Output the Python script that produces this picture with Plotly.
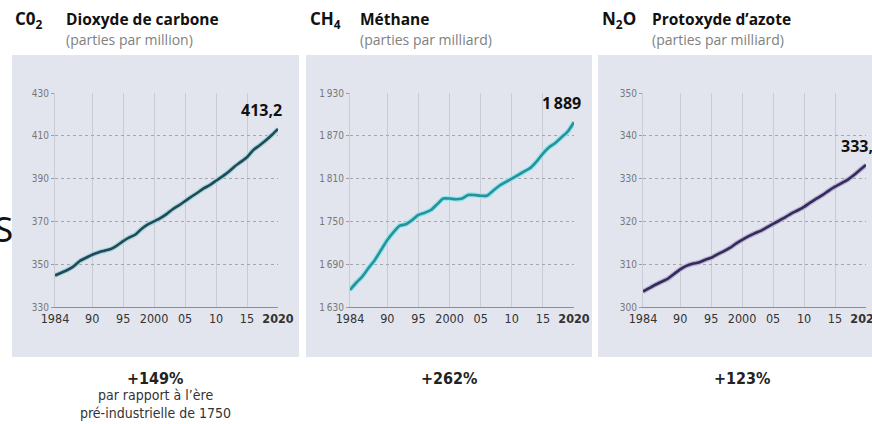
import plotly.graph_objects as go

W, H = 872, 424

years = list(range(1984, 2021))

co2 = [344.7, 346.0, 347.3, 349.0, 351.5, 353.0, 354.4, 355.5, 356.3, 357.1, 358.7, 360.8,
       362.5, 363.9, 366.6, 368.6, 370.0, 371.5, 373.4, 375.7, 377.5, 379.5, 381.5, 383.4,
       385.4, 387.0, 389.0, 391.0, 393.1, 395.7, 397.8, 400.0, 403.3, 405.5, 407.8, 410.4, 413.2]

ch4 = [1654, 1664, 1673, 1685, 1696, 1710, 1724, 1735, 1744, 1746, 1752, 1759, 1762, 1766,
       1774, 1782, 1782, 1781, 1782, 1787, 1787, 1786, 1786, 1793, 1800, 1805, 1810, 1815,
       1820, 1825, 1834, 1845, 1854, 1860, 1868, 1876, 1889]

n2o = [303.6, 304.4, 305.2, 305.9, 306.6, 307.7, 308.8, 309.6, 310.1, 310.4, 311.0, 311.5,
       312.3, 313.0, 313.8, 314.8, 315.7, 316.5, 317.2, 317.8, 318.6, 319.4, 320.2, 321.0,
       321.9, 322.6, 323.4, 324.4, 325.3, 326.2, 327.2, 328.1, 328.9, 329.7, 330.8, 332.0, 333.2]

x_tickvals = [1984, 1990, 1995, 2000, 2005, 2010, 2015, 2020]
x_ticktext = ["1984", "90", "95", "2000", "05", "10", "15", "<b>2020</b>"]

co2_ticks = [330, 350, 370, 390, 410, 430]
co2_ticktext = ["330", "350", "370", "390", "410", "430"]
ch4_ticks = [1630, 1690, 1750, 1810, 1870, 1930]
ch4_ticktext = ["1\u2009630", "1\u2009690", "1\u2009750", "1\u2009810", "1\u2009870", "1\u2009930"]
n2o_ticks = [300, 310, 320, 330, 340, 350]
n2o_ticktext = ["300", "310", "320", "330", "340", "350"]

formulas = ["C0<sub>2</sub>", "CH<sub>4</sub>", "N<sub>2</sub>O"]
names = ["Dioxyde de carbone", "Méthane", "Protoxyde d\u2019azote"]
units = ["(parties par million)", "(parties par milliard)", "(parties par milliard)"]
last_labels = ["413,2", "1\u2009889", "333,2"]
changes = ["+149%", "+262%", "+123%"]
change_note = "par rapport à l\u2019ère<br>pré-industrielle de 1750"

NARROW = "DejaVu Sans Condensed, Open Sans, sans-serif"
BOLD = "Open Sans, Noto Sans, sans-serif"

def px(x):
    return x / W

def py(y):
    return 1 - y / H

panels = [
    dict(px0=12, px1=299, x0=55, x1=278, y=co2, yt=co2_ticks, ytt=co2_ticktext,
         col="#1f4a57", halo="#a9d4dc", fx=13, tx=64, xs=6),
    dict(px0=306, px1=592, x0=350, x1=574, y=ch4, yt=ch4_ticks, ytt=ch4_ticktext,
         col="#28929a", halo="#8fe6ee", fx=308, tx=358, xs=9),
    dict(px0=598, px1=890, x0=643, x1=866, y=n2o, yt=n2o_ticks, ytt=n2o_ticktext,
         col="#362a5a", halo="#b9b3d3", fx=600, tx=650, xs=18),
]

fig = go.Figure()
shapes = []
annotations = []
layout = {}
PT, PB = 93, 307

for i, p in enumerate(panels):
    sfx = "" if i == 0 else str(i + 1)
    xa, ya = "x" + sfx, "y" + sfx
    fig.add_trace(go.Scatter(x=years, y=p["y"], mode="lines", xaxis=xa, yaxis=ya,
                             line=dict(color=p["halo"], width=5, shape="spline", smoothing=0.6),
                             hoverinfo="skip", showlegend=False))
    fig.add_trace(go.Scatter(x=years, y=p["y"], mode="lines", xaxis=xa, yaxis=ya,
                             line=dict(color=p["col"], width=2.6, shape="spline", smoothing=0.6),
                             showlegend=False))
    layout["xaxis" + sfx] = dict(
        domain=[px(p["x0"]), px(p["x1"])], anchor=ya, range=[1984, 2020], automargin=False,
        tickvals=x_tickvals, ticktext=x_ticktext, showgrid=True, gridcolor="#c9ccd4",
        gridwidth=1, zeroline=False, showline=True, linecolor="#8a8d94", linewidth=1.2,
        ticks="", ticklabeloverflow="allow",
        tickfont=dict(family=NARROW, size=12.5, color="#333333"), fixedrange=True)
    layout["yaxis" + sfx] = dict(
        domain=[py(PB), py(PT)], anchor=xa, range=[p["yt"][0], p["yt"][-1]], automargin=False,
        tickvals=p["yt"], ticktext=p["ytt"], showgrid=True, gridcolor="#a3a6ad",
        griddash="dot", gridwidth=1, zeroline=False, showline=True, linecolor="#c9ccd4",
        linewidth=1, ticks="outside", ticklen=3, tickcolor="#9a9da4", ticklabeloverflow="allow",
        tickfont=dict(family=NARROW, size=10, color="#777777"), fixedrange=True)
    shapes.append(dict(type="rect", xref="paper", yref="paper", x0=px(p["px0"]), x1=px(p["px1"]),
                       y0=py(357), y1=py(55), fillcolor="#e2e5ee", line=dict(width=0), layer="below"))
    annotations += [
        dict(text="<b>" + formulas[i] + "</b>", x=px(p["fx"]), y=py(20), xref="paper", yref="paper",
             xanchor="left", yanchor="middle", showarrow=False,
             font=dict(family=BOLD, size=17, color="#111111")),
        dict(text="<b>" + names[i] + "</b>", x=px(p["tx"]), y=py(19), xref="paper", yref="paper",
             xanchor="left", yanchor="middle", showarrow=False,
             font=dict(family=BOLD, size=15.5, color="#111111")),
        dict(text=units[i], x=px(p["tx"]), y=py(40), xref="paper", yref="paper",
             xanchor="left", yanchor="middle", showarrow=False,
             font=dict(family=BOLD, size=14, color="#808080")),
        dict(text="<b>" + last_labels[i] + "</b>", x=years[-1], y=p["y"][-1], xref=xa, yref=ya,
             xanchor="right", yanchor="bottom", xshift=p["xs"], yshift=6, showarrow=False,
             font=dict(family=BOLD, size=16, color="#111111")),
        dict(text="<b>" + changes[i] + "</b>", x=px((p["px0"] + min(p["px1"], 886)) / 2), y=py(378),
             xref="paper", yref="paper", xanchor="center", yanchor="middle", showarrow=False,
             font=dict(family=NARROW, size=16, color="#222222")),
    ]

annotations.append(dict(text=change_note, x=px(155), y=py(404), xref="paper", yref="paper",
                        xanchor="center", yanchor="middle", showarrow=False, align="center",
                        font=dict(family=NARROW, size=14, color="#333333")))
annotations.append(dict(text="S", x=px(15), y=py(228), xref="paper", yref="paper",
                        xanchor="right", yanchor="middle", showarrow=False,
                        font=dict(family="Noto Sans, sans-serif", size=35, color="#111111")))

fig.update_layout(width=W, height=H, margin=dict(l=0, r=0, t=0, b=0, autoexpand=False),
                  paper_bgcolor="#ffffff", plot_bgcolor="rgba(0,0,0,0)",
                  shapes=shapes, annotations=annotations, showlegend=False, **layout)

fig.write_html("out.html", config={"displayModeBar": False},
               post_script="document.body.style.margin='0';document.body.style.overflow='hidden';")
